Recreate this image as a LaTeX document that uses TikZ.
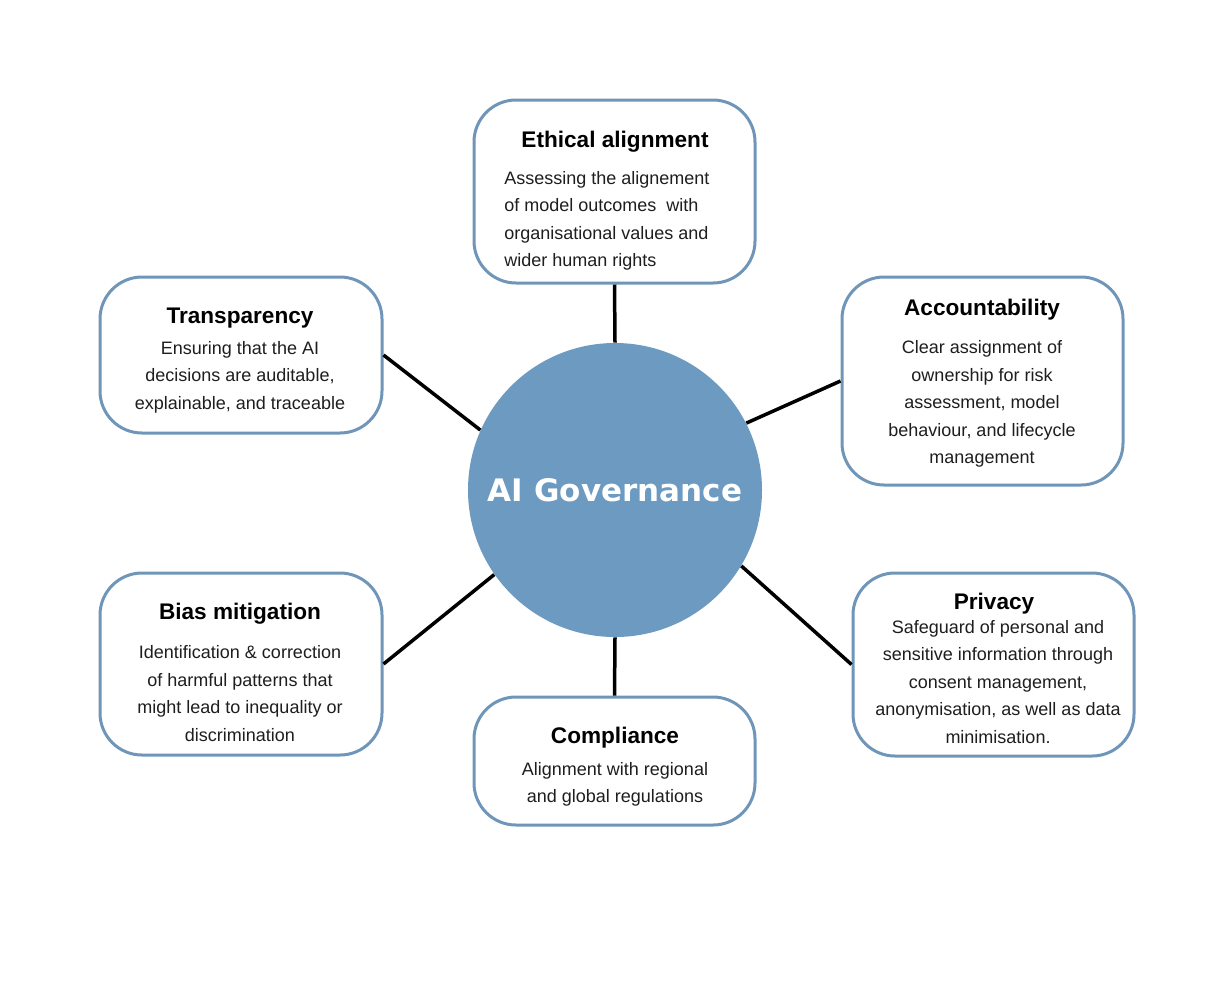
\documentclass[tikz,border=0pt]{standalone}
\usepackage{fontspec}
\setmainfont{Liberation Sans}
\newfontfamily\govfont{DejaVu Sans}
\definecolor{boxline}{HTML}{6F96B8}
\definecolor{govfill}{HTML}{6C9AC0}
\definecolor{bodytext}{HTML}{1E1E1E}
\begin{document}
\begin{tikzpicture}[x=0.5pt,y=-0.5pt,
  infobox/.style={draw=boxline, line width=1.5pt, rounded corners=21pt, fill=white, inner sep=0pt},
  titletext/.style={font=\fontsize{11.3}{13}\selectfont\bfseries, text=black, inner sep=0pt, anchor=base},
  bodytxt/.style={font=\fontsize{9}{13.75}\selectfont, text=bodytext, inner sep=0pt, align=center},
  link/.style={line width=1.75pt, black}]
\useasboundingbox (0,0) rectangle (1230,981);
% boxes
\node[infobox, minimum width=140.5pt, minimum height=91.5pt] (eth) at (614.5,191.5) {};
\node[infobox, minimum width=141pt, minimum height=78pt] (tra) at (241,355) {};
\node[infobox, minimum width=140.5pt, minimum height=104pt] (acc) at (982.5,381) {};
\node[infobox, minimum width=141pt, minimum height=91pt] (bia) at (241,664) {};
\node[infobox, minimum width=140.5pt, minimum height=64pt] (com) at (614.5,761) {};
\node[infobox, minimum width=140.5pt, minimum height=91.5pt] (pri) at (993.5,664.5) {};
% centre
\node[circle, fill=govfill, minimum size=147pt, inner sep=0pt] (gov) at (615,490) {};
\node[font=\govfont\fontsize{15.5}{18}\selectfont\bfseries, text=white, inner sep=0pt] (govlabel) at (615,490) {AI Governance};
% connectors
\draw[link] (eth.south) -- (gov.north);
\draw[link] (tra.east) -- (gov.156);
\draw[link] (acc.west) -- (gov.27);
\draw[link] (bia.east) -- (gov.215);
\draw[link] (pri.west) -- (gov.-31);
\draw[link] (gov.south) -- (com.north);
% titles
\node[titletext] (etht) at (615,147) {Ethical alignment};
\node[titletext] (trat) at (240,323) {Transparency};
\node[titletext] (acct) at (982,315) {Accountability};
\node[titletext] (biat) at (240,619) {Bias mitigation};
\node[titletext] (comt) at (615,743) {Compliance};
\node[titletext] (prit) at (994,609) {Privacy};
% bodies
\node[bodytxt, align=left, anchor=west] (ethb) at (504,221) {Assessing the alignement\\of model outcomes\ \ with\\organisational values and\\wider human rights};
\node[bodytxt] (trab) at (240,377) {Ensuring that the AI\\decisions are auditable,\\explainable, and traceable};
\node[bodytxt] (accb) at (982,404) {Clear assignment of\\ownership for risk\\assessment, model\\behaviour, and lifecycle\\management};
\node[bodytxt] (biab) at (240,693.5) {Identification \& correction\\of harmful patterns that\\might lead to inequality or\\discrimination};
\node[bodytxt] (comb) at (615,784.5) {Alignment with regional\\and global regulations};
\node[bodytxt] (prib) at (998,682) {Safeguard of personal and\\sensitive information through\\consent management,\\anonymisation, as well as data\\minimisation.};
\end{tikzpicture}
\end{document}
